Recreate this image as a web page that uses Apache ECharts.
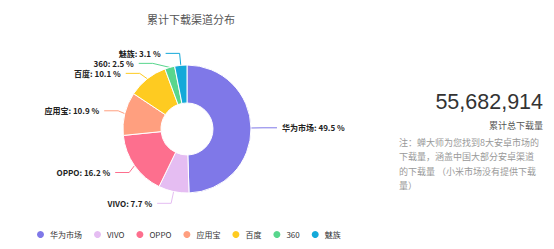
<!DOCTYPE html>
<html>
<head>
<meta charset="utf-8">
<script src="https://cdn.jsdelivr.net/npm/echarts@6/dist/echarts.min.js"></script>
<style>
  html, body { margin: 0; padding: 0; background: #fff; }
  #main { width: 554px; height: 249px; }
</style>
</head>
<body>
<div id="main"></div>
<script>
// 渠道与占比(%)
var channels = ['华为市场', 'VIVO', 'OPPO', '应用宝', '百度', '360', '魅族'];
var shares = [49.5, 7.7, 16.2, 10.9, 10.1, 2.5, 3.1];
var colors = ['#7f78e8', '#e5bdf2', '#fd6f8e', '#ff9f7f', '#fecb21', '#58d68d', '#14a9d9'];
var totalText = '55,682,914';
var totalLabel = '累计总下载量';
var noteLines = [
  '注：蝉大师为您找到8大安卓市场的',
  '下载量，涵盖中国大部分安卓渠道',
  '的下载量 （小米市场没有提供下载',
  '量）'
];

var chartDom = document.getElementById('main');
var myChart = echarts.init(chartDom, null, { renderer: 'svg' });
var option;

var cjk = '"Noto Sans CJK SC", "Noto Sans", sans-serif';

option = {
  color: colors,
  textStyle: { fontFamily: cjk },
  title: {
    text: '累计下载渠道分布',
    left: 142,
    top: 8,
    textStyle: {
      fontSize: 11,
      fontWeight: 'normal',
      color: '#555'
    }
  },
  legend: {
    left: 30,
    bottom: 4,
    icon: 'circle',
    itemWidth: 9,
    itemHeight: 9,
    itemGap: 10,
    textStyle: { fontSize: 8, color: '#333' },
    data: channels
  },
  graphic: [
    {
      type: 'text',
      right: 11,
      top: 91,
      style: {
        text: totalText,
        fontSize: 21.5,
        fontFamily: '"Liberation Sans", Arial, sans-serif',
        fill: '#333'
      }
    },
    {
      type: 'text',
      right: 11,
      top: 121,
      style: {
        text: totalLabel,
        fontSize: 9,
        fill: '#555',
        fontFamily: cjk
      }
    },
    {
      type: 'text',
      left: 399,
      top: 135,
      style: {
        text: noteLines.join('\n'),
        fontSize: 9,
        lineHeight: 14.5,
        fill: '#999',
        fontFamily: cjk
      }
    }
  ],
  series: [
    {
      name: '累计下载渠道分布',
      type: 'pie',
      center: [187, 129],
      radius: [26, 64],
      startAngle: 90,
      percentPrecision: 1,
      itemStyle: {
        borderColor: '#fff',
        borderWidth: 1
      },
      label: {
        formatter: '{b}: {d} %',
        fontSize: 8,
        fontWeight: 'bold',
        color: '#222'
      },
      labelLine: {
        length: 12,
        length2: 14
      },
      data: channels.map(function (name, i) {
        return { name: name, value: shares[i] };
      })
    }
  ]
};

option && myChart.setOption(option);
</script>
</body>
</html>
